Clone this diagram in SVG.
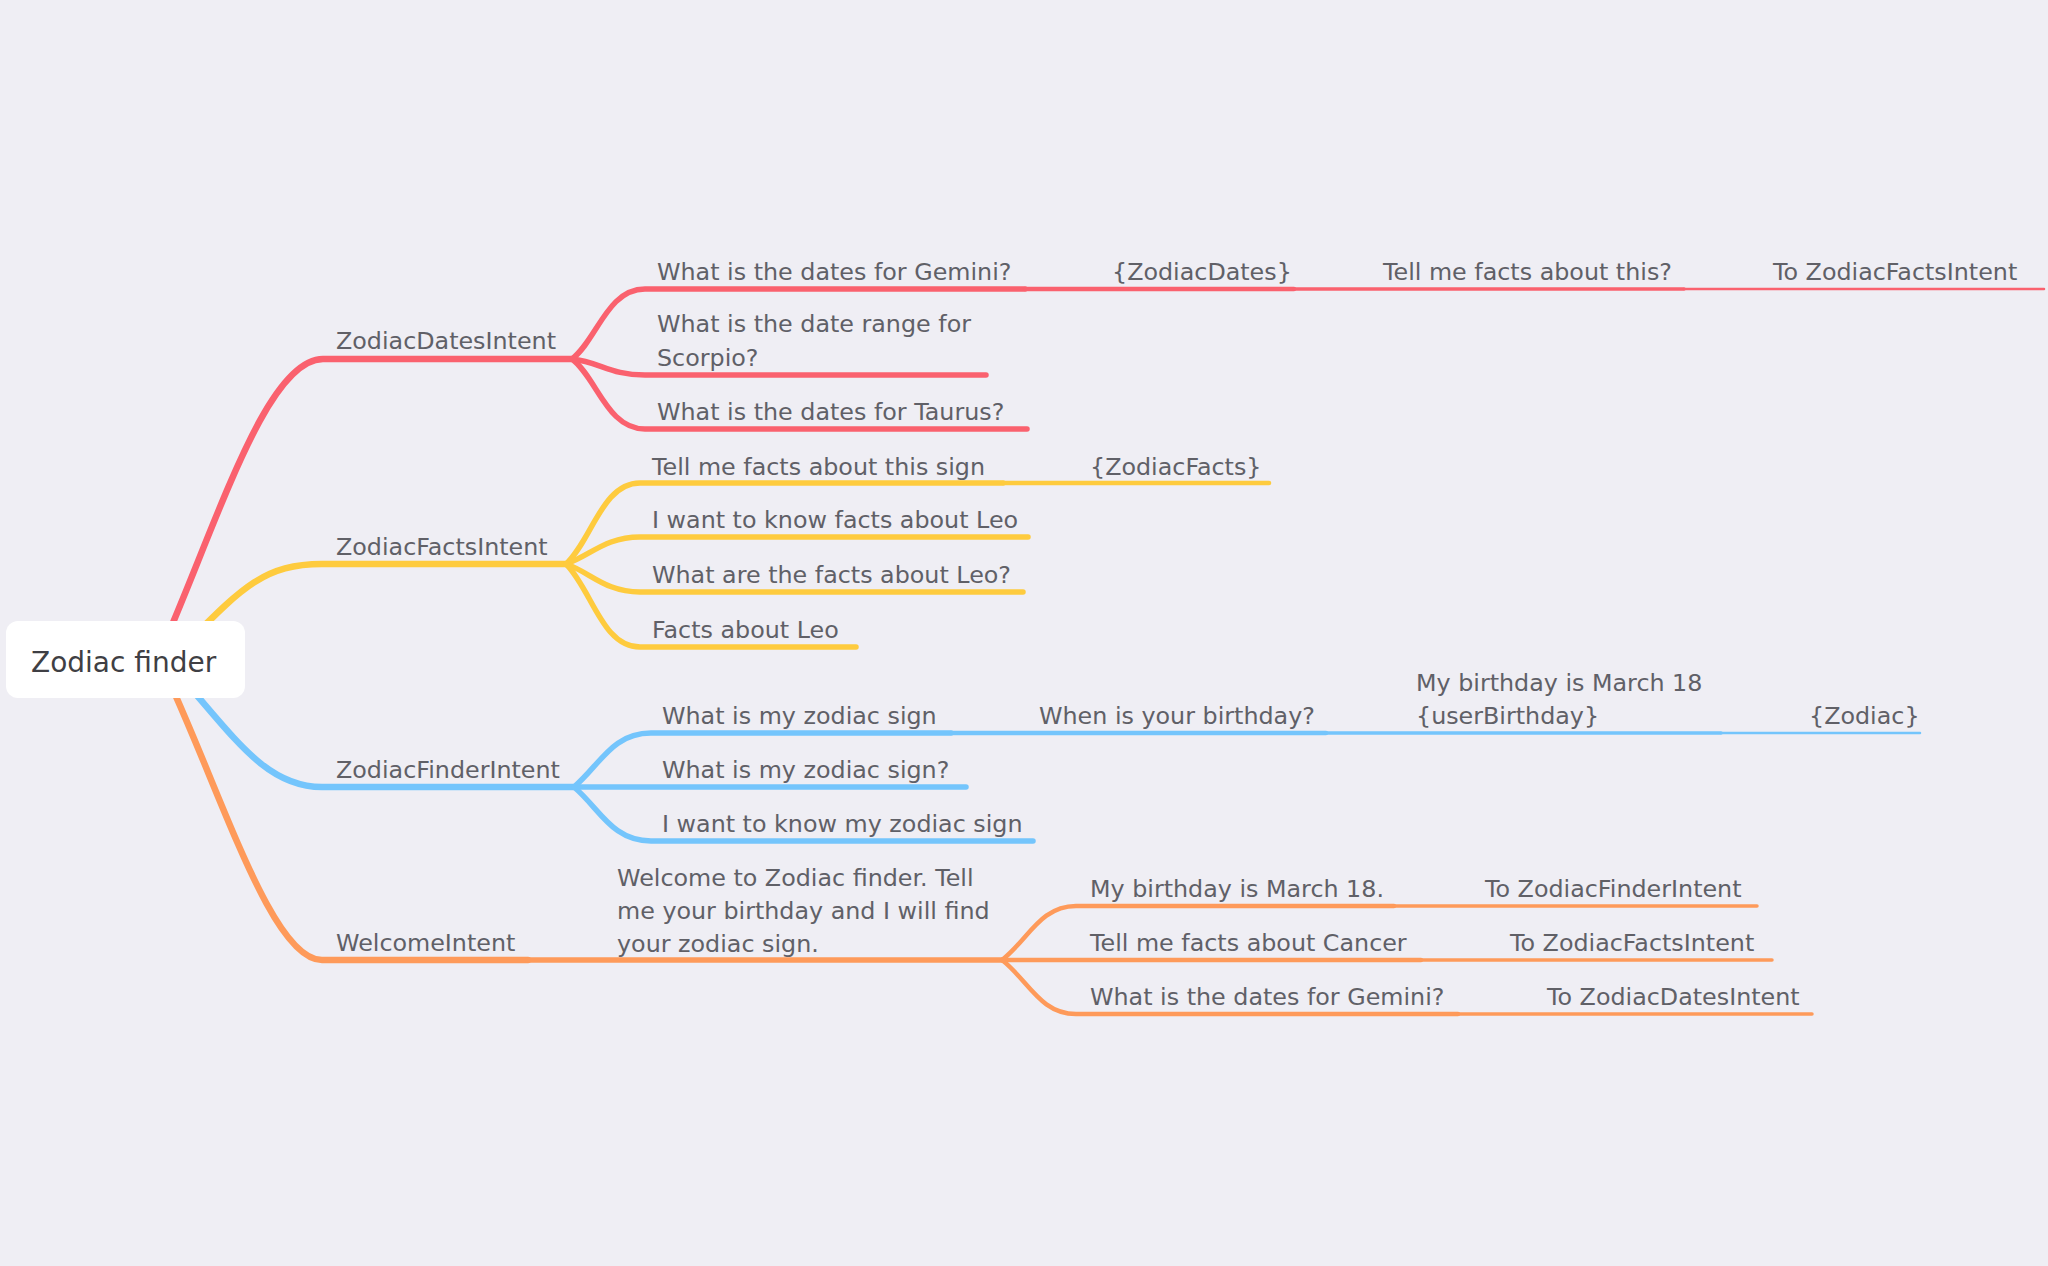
<svg xmlns="http://www.w3.org/2000/svg" width="2048" height="1266" viewBox="0 0 2048 1266">
<style>
.t{font-family:"DejaVu Sans","Liberation Sans",sans-serif;font-size:23.8px;fill:#606067}
.root{font-family:"DejaVu Sans","Liberation Sans",sans-serif;font-size:28px;fill:#3f3f44}
path{fill:none;stroke-linecap:round;stroke-linejoin:round}
.r{stroke:#FA616E}.y{stroke:#FECB3E}.b{stroke:#74C5FC}.o{stroke:#FE9A5A}
.l1{stroke-width:6.5}.l2{stroke-width:5.5}.l3{stroke-width:4.5}.l4{stroke-width:3.5}.l5{stroke-width:2.5}
</style>
<rect width="2048" height="1266" fill="#EFEEF4"/>
<g id="connectors">
<path class="r l1" d="M157 660 C215 530 265 359 323 359 H572"/>
<path class="r l2" d="M572 359 C597 340 607 289 645 289 H1025"/>
<path class="r l2" d="M572 359 C600 362 610 375 645 375 H986"/>
<path class="r l2" d="M572 359 C597 378 607 429 645 429 H1027"/>
<path class="r l3" d="M1025 289 H1294"/>
<path class="r l4" d="M1294 289 H1684"/>
<path class="r l5" d="M1684 289 H2044"/>
<path class="y l1" d="M180 650 C240 590 262 564 322 564 H566"/>
<path class="y l2" d="M566 564 C592 540 602 483 640 483 H1003"/>
<path class="y l3" d="M1003 483 H1269"/>
<path class="y l2" d="M566 564 C590 556 605 537 640 537 H1028"/>
<path class="y l2" d="M566 564 C590 572 605 592 640 592 H1023"/>
<path class="y l2" d="M566 564 C592 590 602 647 640 647 H856"/>
<path class="b l1" d="M170 665 C230 730 262 787 322 787 H574"/>
<path class="b l2" d="M574 787 C600 765 612 733 651 733 H951"/>
<path class="b l3" d="M951 733 H1326"/>
<path class="b l4" d="M1326 733 H1721"/>
<path class="b l5" d="M1721 733 H1920"/>
<path class="b l2" d="M574 787 H966"/>
<path class="b l2" d="M574 787 C600 809 612 841 651 841 H1033"/>
<path class="o l1" d="M150 640 C215 770 268 960 322 960 H528"/>
<path class="o l2" d="M528 960 H1002"/>
<path class="o l3" d="M1002 960 C1028 940 1040 906 1076 906 H1394"/>
<path class="o l4" d="M1394 906 H1757"/>
<path class="o l3" d="M1002 960 H1421"/>
<path class="o l4" d="M1421 960 H1772"/>
<path class="o l3" d="M1002 960 C1028 980 1040 1014 1076 1014 H1458"/>
<path class="o l4" d="M1458 1014 H1812"/>
</g>
<g id="root"><rect x="6" y="621" width="239" height="77" rx="12" fill="#ffffff"/><text class="root" x="31" y="672">Zodiac finder</text></g>
<g id="zodiacDatesIntent"><text class="t" x="336" y="349">ZodiacDatesIntent</text></g>
<g id="datesGemini"><text class="t" x="657" y="280">What is the dates for Gemini?</text></g>
<g id="zodiacDates"><text class="t" x="1112" y="280">{ZodiacDates}</text></g>
<g id="tellFactsThis"><text class="t" x="1383" y="280">Tell me facts about this?</text></g>
<g id="toFacts1"><text class="t" x="1773" y="280">To ZodiacFactsIntent</text></g>
<g id="dateScorpio"><text class="t" x="657" y="332">What is the date range for</text><text class="t" x="657" y="366">Scorpio?</text></g>
<g id="datesTaurus"><text class="t" x="657" y="420">What is the dates for Taurus?</text></g>
<g id="zodiacFactsIntent"><text class="t" x="336" y="555">ZodiacFactsIntent</text></g>
<g id="factsSign"><text class="t" x="652" y="475">Tell me facts about this sign</text></g>
<g id="zodiacFacts"><text class="t" x="1090" y="475">{ZodiacFacts}</text></g>
<g id="factsLeo1"><text class="t" x="652" y="528">I want to know facts about Leo</text></g>
<g id="factsLeo2"><text class="t" x="652" y="583">What are the facts about Leo?</text></g>
<g id="factsLeo3"><text class="t" x="652" y="638">Facts about Leo</text></g>
<g id="zodiacFinderIntent"><text class="t" x="336" y="778">ZodiacFinderIntent</text></g>
<g id="mySign1"><text class="t" x="662" y="724">What is my zodiac sign</text></g>
<g id="whenBirthday"><text class="t" x="1039" y="724">When is your birthday?</text></g>
<g id="userBirthday"><text class="t" x="1416" y="691">My birthday is March 18</text><text class="t" x="1416" y="724">{userBirthday}</text></g>
<g id="zodiac"><text class="t" x="1809" y="724">{Zodiac}</text></g>
<g id="mySign2"><text class="t" x="662" y="778">What is my zodiac sign?</text></g>
<g id="mySign3"><text class="t" x="662" y="832">I want to know my zodiac sign</text></g>
<g id="welcomeIntent"><text class="t" x="336" y="951">WelcomeIntent</text></g>
<g id="welcomeText"><text class="t" x="617" y="886">Welcome to Zodiac finder. Tell</text><text class="t" x="617" y="919">me your birthday and I will find</text><text class="t" x="617" y="952">your zodiac sign.</text></g>
<g id="birthdayMarch"><text class="t" x="1090" y="897">My birthday is March 18.</text></g>
<g id="toFinder"><text class="t" x="1485" y="897">To ZodiacFinderIntent</text></g>
<g id="factsCancer"><text class="t" x="1090" y="951">Tell me facts about Cancer</text></g>
<g id="toFacts2"><text class="t" x="1510" y="951">To ZodiacFactsIntent</text></g>
<g id="datesGemini2"><text class="t" x="1090" y="1005">What is the dates for Gemini?</text></g>
<g id="toDates"><text class="t" x="1547" y="1005">To ZodiacDatesIntent</text></g>
</svg>
